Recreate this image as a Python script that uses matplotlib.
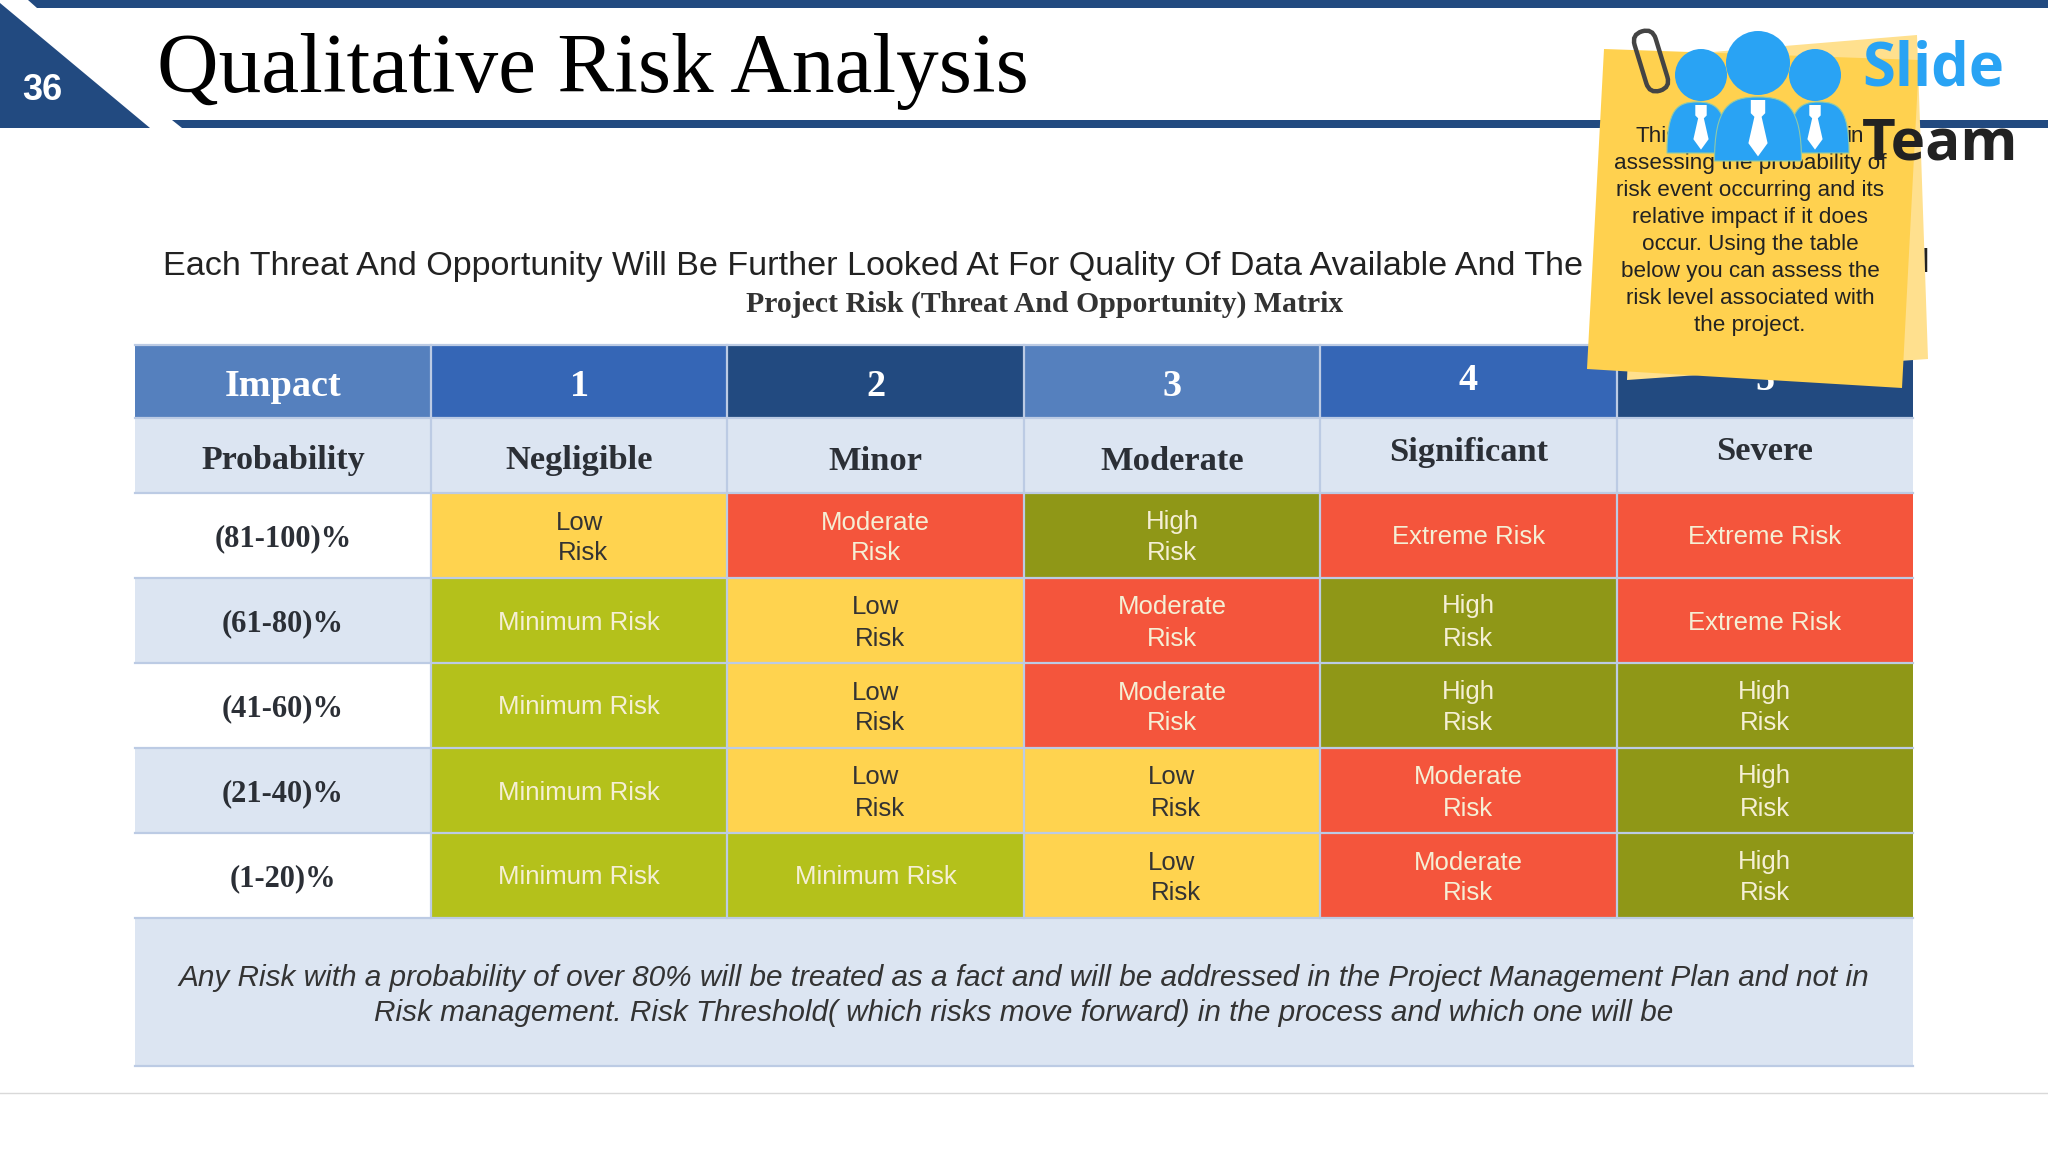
"""Qualitative risk analysis slide, drawn in pixel coords on one full-figure axes."""
import matplotlib
matplotlib.use("Agg")
import matplotlib.pyplot as plt
from matplotlib.patches import Polygon, Rectangle, Circle, FancyBboxPatch, PathPatch
from matplotlib.path import Path
from matplotlib.transforms import Affine2D

SERIF = "Liberation Serif"
SANS = "Liberation Sans"

# table content
impact_nums = ["1", "2", "3", "4", "5"]
impact_names = ["Negligible", "Minor", "Moderate", "Significant", "Severe"]
probabilities = ["(81-100)%", "(61-80)%", "(41-60)%", "(21-40)%", "(1-20)%"]
row0 = ["Low", "Moderate", "High", "Extreme", "Extreme"]
row1 = ["Minimum", "Low", "Moderate", "High", "Extreme"]
row2 = ["Minimum", "Low", "Moderate", "High", "High"]
row3 = ["Minimum", "Low", "Low", "Moderate", "High"]
row4 = ["Minimum", "Minimum", "Low", "Moderate", "High"]
matrix = [row0, row1, row2, row3, row4]

note_lines = ["assessing the probability of", "risk event occurring and its",
              "relative impact if it does", "occur. Using the table",
              "below you can assess the", "risk level associated with", "the project."]
footer_lines = ["Any Risk with a probability of over 80% will be treated as a fact and will be addressed in the Project Management Plan and not in",
                "Risk management. Risk Threshold( which risks move forward) in the process and which one will be"]

NAVY = "#224A80"
BLUE_L = "#5580BE"
BLUE_M = "#3566B6"
TINT = "#DCE5F2"
GRID = "#BCCBE4"
LOGO = "#29A3F4"
fills = {"Low": "#FFD34F", "Moderate": "#F4553C", "High": "#8F9717",
         "Extreme": "#F4553C", "Minimum": "#B4C11B"}
head_fills = [BLUE_M, NAVY, BLUE_L, BLUE_M, NAVY]

X0, C0, CW = 135, 431, 296.4
X1 = C0 + 5 * CW
Y_HEAD, Y_SUB, Y_ROW, RH, Y_END, Y_FOOT = 345, 418, 493, 85, 918, 1066

fig = plt.figure(figsize=(20.48, 11.52), dpi=100)
ax = fig.add_axes([0, 0, 1, 1])
ax.set_xlim(0, 2048)
ax.set_ylim(1152, 0)
ax.axis("off")


def cell(x, y, w, h, color, z=2):
    ax.add_patch(Rectangle((x, y), w, h, fc=color, ec="none", zorder=z))


def txt(x, y, s, size, color="#333333", family=SANS, weight="normal", style="normal", z=5, ha="center"):
    ax.text(x, y, s, fontsize=size, color=color, family=family, weight=weight, style=style,
            ha=ha, va="center", zorder=z)


# header furniture
ax.add_patch(Polygon([(28, 0), (37, 8), (2048, 8), (2048, 0)], fc=NAVY, ec="none"))
ax.add_patch(Polygon([(0, 3), (0, 128), (150, 128)], fc=NAVY, ec="none"))
ax.add_patch(Polygon([(172, 120), (182, 128), (2048, 128), (2048, 120)], fc=NAVY, ec="none"))
ax.plot([0, 2048], [1093, 1093], color="#D9D9D9", lw=1)
txt(42, 91, "36", 26, "white", weight="bold")
txt(157, 71, "Qualitative Risk Analysis", 61.4, "#000000", SERIF, ha="left")

txt(163, 267, "Each Threat And Opportunity Will Be Further Looked At For Quality Of Data Available And The",
    24.6, "#222222", ha="left", z=3)
txt(1925, 264, "l", 24.6, "#222222", z=3)
txt(1045, 304, "Project Risk (Threat And Opportunity) Matrix", 21.4, "#333333", SERIF, "bold")

# table
cell(X0, Y_HEAD, C0 - X0, Y_SUB - Y_HEAD, BLUE_L)
cell(X0, Y_SUB, C0 - X0, Y_ROW - Y_SUB, TINT)
txt((X0 + C0) / 2, 387, "Impact", 27.5, "white", SERIF, "bold")
txt((X0 + C0) / 2, 461, "Probability", 24.5, "#2B2F36", SERIF, "bold")
for j, (num, name) in enumerate(zip(impact_nums, impact_names)):
    x = C0 + j * CW
    cell(x, Y_HEAD, CW, Y_SUB - Y_HEAD, head_fills[j])
    cell(x, Y_SUB, CW, Y_ROW - Y_SUB, TINT)
    # last two columns sit a little higher in the slide
    dy = -7 if j >= 3 else 0
    dy2 = -9 if j >= 3 else 0
    txt(x + CW / 2, 387 + dy, num, 27.5, "white", SERIF, "bold")
    txt(x + CW / 2, 461 + dy2, name, 24.8, "#2B2F36", SERIF, "bold")

for i, (prob, row) in enumerate(zip(probabilities, matrix)):
    y = Y_ROW + i * RH
    cell(X0, y, C0 - X0, RH, "white" if i % 2 == 0 else TINT)
    txt((X0 + C0) / 2, y + RH / 2 + 3, prob, 22, "#2B2F36", SERIF, "bold")
    for j, level in enumerate(row):
        x = C0 + j * CW
        cell(x, y, CW, RH, fills[level])
        cx, cy = x + CW / 2, y + RH / 2
        tc = "#333333" if level == "Low" else "#F5EFD5"
        if level in ("Minimum", "Extreme"):
            txt(cx, cy + 2, level + " Risk", 18.5, tc)
        else:
            # "High" has a descender, so its box centre sits lower
            txt(cx, cy - (14 if level == "High" else 13), level, 18.5, tc)
            txt(cx + (4 if level == "Low" else 0), cy + 18, "Risk", 18.5, tc)

cell(X0, Y_END, X1 - X0, Y_FOOT - Y_END, TINT)
for k, line in enumerate(footer_lines):
    txt(1024, 978 + k * 35, line, 21.4, "#333333", style="italic")

# table rules: no outer side borders
for yy in [Y_HEAD, Y_SUB] + [Y_ROW + i * RH for i in range(6)] + [Y_FOOT]:
    ax.plot([X0, X1], [yy, yy], color=GRID, lw=1.6, zorder=3)
for j in range(5):
    xx = C0 + j * CW
    ax.plot([xx, xx], [Y_HEAD, Y_END], color=GRID, lw=1.6, zorder=3)

# sticky note
ax.add_patch(Polygon([(1627, 380), (1640, 58), (1917, 35), (1928, 359)], fc="#FFE08E", ec="none", zorder=6))
ax.add_patch(Polygon([(1604, 49), (1919, 60), (1902, 388), (1587, 369)], fc="#FFD14F", ec="none", zorder=7))
txt(1636, 137, "This", 16.2, "#222222", z=8, ha="left")
txt(1855, 137, "in", 16.2, "#222222", z=8)
for k, line in enumerate(note_lines):
    txt(1750, 164 + k * 26.9, line, 16.2, "#222222", z=8)

# paperclip
clip = FancyBboxPatch((1640, 30), 22, 62, boxstyle="round,pad=0,rounding_size=11",
                      fc="none", ec="#444444", lw=3.2, zorder=9)
clip.set_transform(Affine2D().rotate_deg_around(1651, 61, -17) + ax.transData)
ax.add_patch(clip)


# logo
def body(cx, w, top, bot, z):
    verts = [(cx - w / 2, bot), (cx - w / 2, top + (bot - top) * 0.15), (cx - w / 3, top), (cx, top),
             (cx + w / 3, top), (cx + w / 2, top + (bot - top) * 0.15), (cx + w / 2, bot), (cx - w / 2, bot)]
    codes = [Path.MOVETO, Path.CURVE4, Path.CURVE4, Path.CURVE4, Path.CURVE4, Path.CURVE4, Path.CURVE4, Path.CLOSEPOLY]
    ax.add_patch(PathPatch(Path(verts, codes), fc=LOGO, ec="#8FC9A8", lw=0.8, zorder=z))


def tie(cx, top, s, z):
    pts = [(-6, 0), (6, 0), (6, 11), (3, 14), (8, 36), (0, 47), (-8, 36), (-3, 14), (-6, 11)]
    ax.add_patch(Polygon([(cx + s * a, top + s * b) for a, b in pts], fc="white", ec="none", zorder=z))


for cx, cy, r, z in [(1701, 75, 26, 10), (1815, 75, 26, 10), (1758, 63, 32, 11)]:
    ax.add_patch(Circle((cx, cy), r, fc=LOGO, ec="none", zorder=z))
body(1697, 60, 102, 153, 10)
body(1819, 60, 102, 153, 10)
body(1758, 87, 97, 161, 11)
tie(1701, 105, 0.95, 12)
tie(1815, 105, 0.95, 12)
tie(1758, 100, 1.2, 12)
txt(1862, 70, "Slide", 43, LOGO, "Open Sans", "bold", z=10, ha="left")
txt(1862, 145, "Team", 42, "#222222", "Open Sans", "bold", z=10, ha="left")

fig.savefig("out.png", dpi=100)
